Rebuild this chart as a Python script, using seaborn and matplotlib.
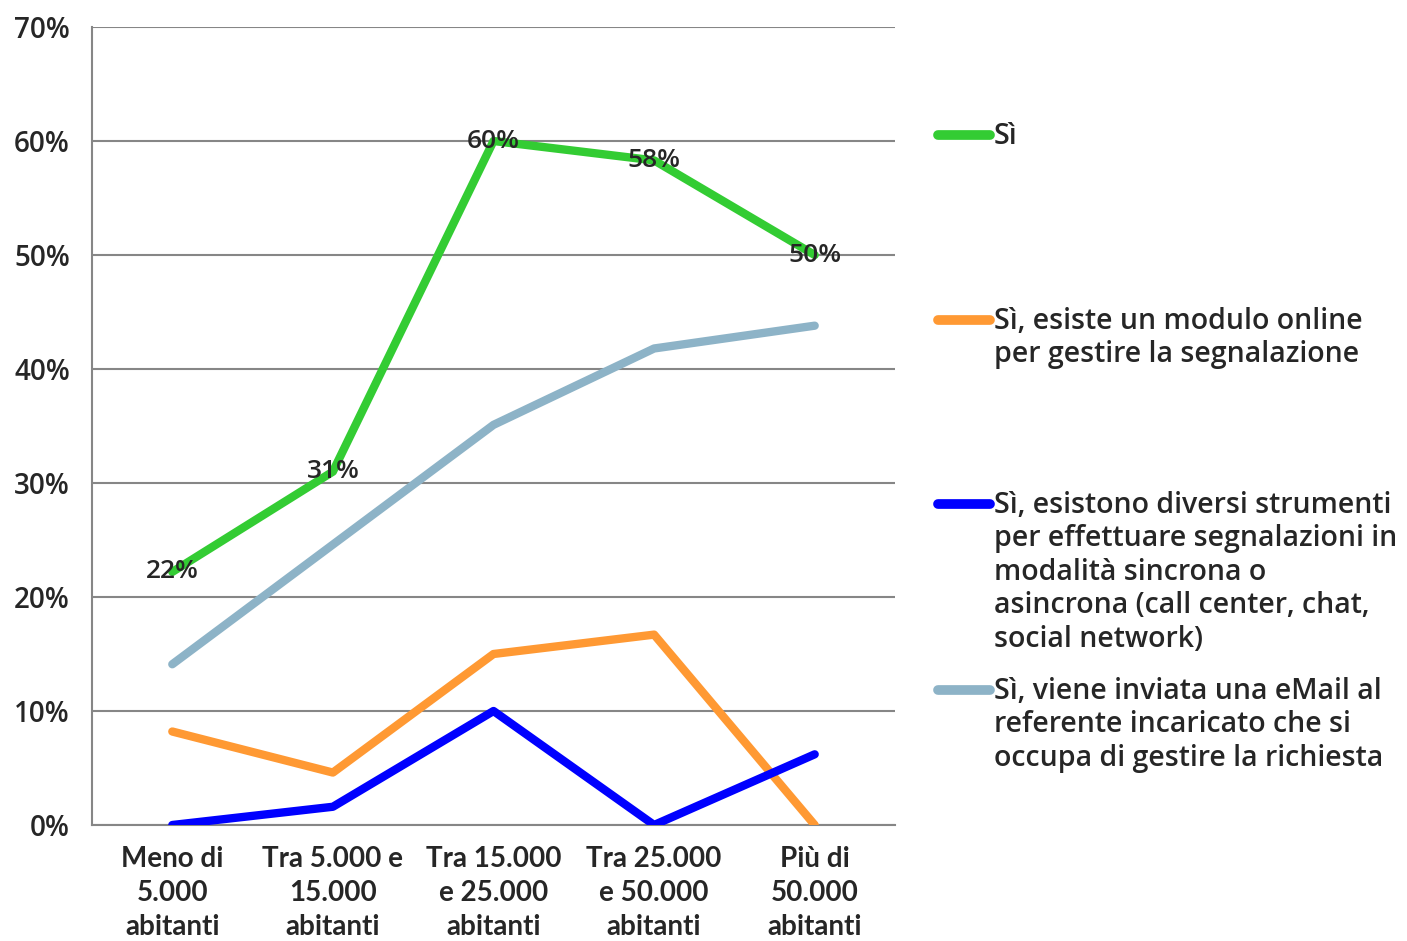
import matplotlib
matplotlib.use("Agg")
import pandas as pd
import matplotlib.pyplot as plt
import seaborn as sns
from matplotlib.lines import Line2D
from matplotlib.ticker import FixedLocator, PercentFormatter

# categories (x axis) and series values in %
categories = ["Meno di\n5.000\nabitanti", "Tra 5.000 e\n15.000\nabitanti",
              "Tra 15.000\ne 25.000\nabitanti", "Tra 25.000\ne 50.000\nabitanti",
              "Più di\n50.000\nabitanti"]
series_names = ["Sì",
                "Sì, esiste un modulo online\nper gestire la segnalazione",
                "Sì, esistono diversi strumenti\nper effettuare segnalazioni in\nmodalità sincrona o\nasincrona (call center, chat,\nsocial network)",
                "Sì, viene inviata una eMail al\nreferente incaricato che si\noccupa di gestire la richiesta"]
si = [22.2, 31.0, 60.0, 58.3, 50.0]
modulo_online = [8.2, 4.6, 15.0, 16.7, 0.0]
strumenti = [0.0, 1.6, 10.0, 0.0, 6.2]
email = [14.1, 24.6, 35.1, 41.8, 43.8]
colors = ["#33CC33", "#FF9933", "#0000FF", "#8DB3C7"]

rows = []
for name, vals in zip(series_names, [si, modulo_online, strumenti, email]):
    for i, v in enumerate(vals):
        rows.append({"serie": name, "x": i, "val": v})
df = pd.DataFrame(rows)

sns.set_style("white")
plt.rcParams['font.family'] = ['Open Sans', 'DejaVu Sans']
plt.rcParams['font.weight'] = 'semibold'

fig = plt.figure(figsize=(14.07, 9.41), dpi=100)
ax = fig.add_axes([92/1407, 1-825/941, (895-92)/1407, (825-27)/941])

sns.lineplot(data=df, x="x", y="val", hue="serie", hue_order=series_names,
             palette=colors, linewidth=6, sort=False, legend=False, ax=ax,
             zorder=3)
for line in ax.get_lines():
    line.set_solid_joinstyle("round")

# data labels on the green series
for i, v in enumerate(si):
    ax.text(i, v, f"{v:.0f}%", ha="center", va="center", fontsize=19,
            fontweight="semibold", zorder=4)

ax.set_xlim(-0.5, 4.5)
ax.set_ylim(0, 70)
ax.set_yticks(range(0, 71, 10))
ax.yaxis.set_major_formatter(PercentFormatter(decimals=0))
ax.set_xticks(range(len(categories)))
ax.set_xticklabels(categories, fontsize=20, linespacing=1.38,
                   family=['Lato', 'DejaVu Sans'], fontweight='bold')
ax.xaxis.set_minor_locator(FixedLocator([i - 0.5 for i in range(len(categories) + 1)]))
ax.tick_params(axis="x", which="major", length=0, pad=15)
ax.tick_params(axis="x", which="minor", length=8, width=1.5, color="#868686")
ax.tick_params(axis="y", length=7, width=1.5, color="#868686", labelsize=20, pad=9)
ax.set_xlabel("")
ax.set_ylabel("")

ax.grid(axis="y", color="#868686", linewidth=1.5)
ax.set_axisbelow(True)
for s in ["top", "right"]:
    ax.spines[s].set_visible(False)
for s in ["left", "bottom"]:
    ax.spines[s].set_color("#868686")
    ax.spines[s].set_linewidth(1.5)

# legend on the right
legend_y = [135, 320, 504, 690]
for name, col, y in zip(series_names, colors, legend_y):
    yf = 1 - y / 941
    fig.add_artist(Line2D([938/1407, 990/1407], [yf, yf], color=col,
                          linewidth=7, solid_capstyle="round",
                          transform=fig.transFigure))
    fig.text(994/1407, yf + 13/941, name, fontsize=20.5, fontweight="semibold",
             va="top", ha="left", linespacing=1.2,
             transform=fig.transFigure)

fig.savefig("out.png", dpi=100, facecolor="white")
